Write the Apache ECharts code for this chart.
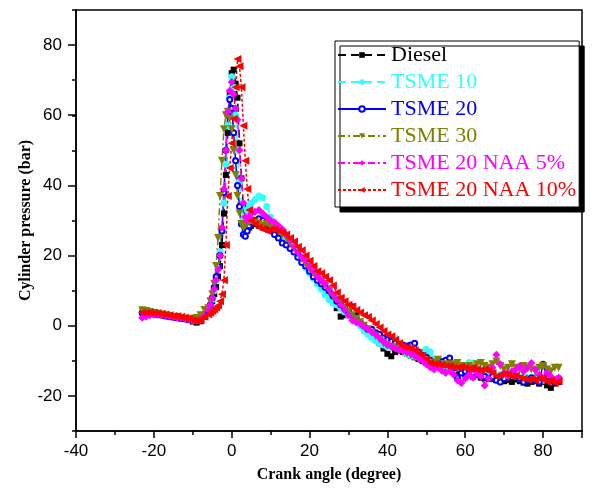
<!DOCTYPE html>
<html>
<head>
<meta charset="utf-8">
<script src="https://cdn.jsdelivr.net/npm/echarts@6/dist/echarts.min.js"></script>
<style>html,body{margin:0;padding:0;background:#fff}#c{width:597px;height:499px}</style>
</head>
<body>
<div id="c"></div>
<script>
// Crank angle (degree)
const crankAngle = [-23,-22,-21,-20,-19,-18,-17,-16,-15,-14,-13,-12,-11,-10,-9,-8,-7,
  -6,-5.5,-5,-4.5,-4,-3.5,-3,-2.5,-2,-1.5,-1,-0.5,0,0.5,1,1.5,2,2.5,3,3.5,4,4.5,5,
  6,7,8,9,10,11,12,13,14,15,16,17,18,19,20,21,22,23,24,25,26,27,28,29,30,31,32,33,34,35,
  36,37,38,39,40,41,42,43,44,45,46,47,48,49,50,51,52,53,54,55,56,57,58,59,60,61,62,63,64,65,
  66,67,68,69,70,71,72,73,74,75,76,77,78,79,80,81,82,83,84];

// Cylinder pressure (bar)
const diesel = [4,3.8,3.6,3.4,3.3,3.1,2.9,2.7,2.5,2.3,2.1,1.9,1.6,1.2,0.9,1.3,2.5,
  4,5,7,9,11,14,17,23,32,43,55,66,72,73,69,65,52,42,34,30,28.5,28,28.5,
  29,28.5,28,28.5,27.5,27,26.5,25.5,24.5,23,
  21.5,20,18.5,17,15.5,15,14,12.5,11,9.5,
  8,5,2.6,3,4,5.5,3,1,-0.7,-2,
  -3,-4,-5,-6.5,-8,-8.7,-7.5,-7,-7.5,-8,
  -8.5,-9,-9.5,-10,-10.5,-11,-11.5,-11.8,-12,-12.5,
  -12.8,-13,-13.5,-13.2,-13.8,-14,-14.5,-14,-14.8,-15,
  -14.6,-15.2,-15.5,-15,-15.8,-15.5,-16,-15.3,-15.8,-16.2,
  -16.5,-16,-15.8,-16.5,-16,-17,-17.7,-16.5,-16];

const tsme10 = [4.2,3.9,3.7,3.5,3.4,3.2,3,2.8,2.6,2.4,2.2,2,1.8,1.6,1.5,1.9,2.8,
  4,5.5,7.5,10,13,17,21,27,35,46,57,65,71,68,60,50,41,34,30,31,33,34,35,
  36,37,36.5,34,31,29,27,25.5,24.5,23,
  21.5,19.5,18,16.5,15,13.5,12,10.5,9,7.5,
  6.5,6,5,4,3,2,1,0,-1.5,-2.5,
  -3.5,-4.2,-5,-5.5,-6,-5,-3.5,-5.5,-7,-8,
  -8.5,-8.8,-9,-7.5,-6.8,-7.5,-9.5,-10.5,-11,-11.5,
  -12,-12.5,-12,-12.5,-11.5,-10.5,-10.6,-11.5,-12.5,-13,
  -14,-13.5,-14.2,-13.8,-14.5,-14,-13.5,-14.5,-15,-14.2,
  -14.8,-15.2,-14.5,-15,-15.5,-14.8,-15.2,-15.8,-15];

const tsme20 = [3.6,3.5,3.4,3.3,3.1,3,2.8,2.6,2.4,2.3,2.1,2,1.8,1.7,1.6,2.2,3.2,
  4.5,6,8,11,14,17,20,27,38,50,60,64.5,62,55,47,40,34,29,26,25.5,27,28.5,29.5,
  30,30.5,30,29,27.5,26,25,23.6,23,22,
  21,19.5,18,17,15.5,14,13,12,11,10,
  8.5,7,6,5,4,3,2,1,0,-1,
  -1,-2,-2.5,-3.5,-4,-4.5,-5,-5.3,-5.5,-5.8,
  -5.5,-5,-7.5,-8.5,-9,-9.8,-10.5,-10.8,-10.2,-9.8,
  -9.2,-12,-14.8,-13.5,-13,-12.5,-13.5,-14,-13,-14.5,
  -15,-14.5,-15.5,-16,-15,-14,-13.5,-14.5,-15,-16,
  -15.5,-14.8,-15.5,-16,-11,-14.5,-15.5,-16,-15];

const tsme30 = [4.4,4.2,3.9,3.6,3.5,3.2,3,2.8,2.6,2.5,2.3,2.1,2,1.9,2.2,3,4.5,
  5,7,9,12,17,25,37,47,56,60,61,59,56,50,43,37,32,29,28,28.5,29,29.5,30,
  29.5,29,28.5,29,28,27.5,27,26,25,23.5,
  22,20.5,19,17.5,16,15,14,12.5,11.5,10,
  8.5,7.5,6.5,5,4,3,2,1,0,-1,
  -2,-3,-4,-5,-5.5,-6,-6.5,-7,-7.5,-8,
  -8.5,-9,-9.5,-10,-10.3,-10.8,-10.5,-9.7,-11.5,-11,
  -11.5,-11,-10.6,-11.5,-12,-11.5,-12,-11,-10.6,-11.5,
  -12,-11,-10.2,-11.5,-12.5,-12,-11,-12,-12.5,-11.5,
  -12,-12.5,-13,-12,-11.5,-12.5,-13,-12,-12];

const naa5 = [2.3,2.6,3,3.2,3.1,3,2.9,2.7,2.5,2.3,2.2,2,1.8,1.5,1.4,1.8,2.8,
  4.5,6,8,10.5,13,16,20,28,39,50,61,67,69.5,66,62,58.7,50,42,35,31,30,31,32,
  32.5,33,32,31,30,29.5,28.5,27.5,26,24.5,
  22.5,21,19.5,18.5,17,15.5,14,13,12,10.5,
  9,7.5,6,4.5,3,1.5,1,0.5,-0.3,-1,
  -1.8,-2.5,-3.5,-4.5,-5.5,-6,-6.5,-7,-7.3,-7.6,
  -7.8,-8.5,-9.2,-10,-11,-11.8,-12.5,-12,-12.8,-13.5,
  -13,-14,-15.5,-16.3,-15,-14,-14.8,-13.5,-14.5,-17,
  -15,-12,-8.3,-11,-13.5,-14.5,-13,-12.5,-11.5,-13,
  -12,-10.6,-12.5,-14,-15,-13.5,-14.5,-15.5,-14.8];

const naa10 = [3.8,3.7,3.8,3.6,3.5,3.4,3.2,3,2.8,2.7,2.5,2.2,2,1.6,1.4,1.6,2.6,
  3.2,3.7,4.2,4.6,5.2,5.8,7,9,13,23,37,45,52,59,68,76,74,68,57,47,39,33,30,
  29,28,27.5,27,27.5,27.5,27,26.5,26,25,
  24,22.5,21.5,20,18.5,17,15.5,15,14,13,
  11.5,9.5,8,7,6,5.5,4.5,3.8,3,2.5,
  1.5,0.5,-0.5,-1.5,-2.5,-3,-4,-5,-5.9,-6.2,
  -6.4,-7,-7.8,-8.5,-9.5,-10.6,-10.8,-11,-11.2,-11.4,
  -11.5,-11.8,-12,-11.6,-12,-12.3,-12,-12.4,-12.6,-12.5,
  -12.8,-13.5,-14.4,-14,-13.6,-14,-14.5,-14.2,-14.8,-15,
  -15.4,-15,-15.6,-14.8,-15.2,-16,-15.5,-16.3,-15.8];

const seriesNames = ['Diesel','TSME 10','TSME 20','TSME 30','TSME 20 NAA 5%','TSME 20 NAA 10%'];
const seriesValues = [diesel, tsme10, tsme20, tsme30, naa5, naa10];
const seriesColors = ['#000000','#33FFFF','#0000FF','#808000','#FF00FF','#FF0000'];
const seriesSymbols = ['rect','circle','emptyCircle','triangle','diamond','triangle'];
const symbolSizes = [6,7,5,8,8,8];
const symbolRotates = [0,0,0,180,0,90];
const lineTypes = [[8,5],[8,5],'solid',[7,3,2,3],[7,3,2,3],[3,2]];

function pairs(ys){ return crankAngle.map((x,i)=>[x, ys[i]]); }

const chart = echarts.init(document.getElementById('c'), null, {renderer:'canvas'});
const series = seriesNames.map((n,i)=>({
  name:n, type:'line', xAxisIndex:0, yAxisIndex:0,
  data: pairs(seriesValues[i]),
  symbol: seriesSymbols[i], symbolSize: symbolSizes[i], symbolRotate: symbolRotates[i],
  showAllSymbol:true,
  lineStyle:{color:seriesColors[i], width:1.5, type:lineTypes[i]},
  itemStyle:{color:seriesColors[i], borderColor:seriesColors[i], borderWidth: i===2?1.5:0},
  emphasis:{disabled:true}
}));

const tickFont = {fontFamily:'Liberation Sans', fontSize:17, color:'#000'};
const nameFont = {fontFamily:'Liberation Serif', fontSize:16, fontWeight:'bold', color:'#000'};

chart.setOption({
  animation:false,
  backgroundColor:'#fff',
  grid:[
    {left:76, right:15, top:10, bottom:68, show:true, borderColor:'#000', borderWidth:1.5},
    {left:76, right:15, top:45.08, bottom:103.08, show:false}
  ],
  xAxis:[
    {type:'value', gridIndex:0, min:-40, max:90, interval:20,
     axisLine:{onZero:false, lineStyle:{color:'#000', width:1.5}},
     axisTick:{show:true, length:7, lineStyle:{color:'#000', width:1.5}},
     minorTick:{show:true, splitNumber:2, length:4, lineStyle:{color:'#000', width:1.5}},
     splitLine:{show:false},
     axisLabel:{...tickFont, margin:12, formatter:v=> v>80 ? '' : String(v)},
     name:'Crank angle (degree)', nameLocation:'middle', nameGap:36, nameTextStyle:nameFont},
    {type:'value', gridIndex:1, min:-40, max:90, show:false}
  ],
  yAxis:[
    {type:'value', gridIndex:0, min:-30, max:90, interval:10,
     axisLine:{show:true, onZero:false, lineStyle:{color:'#000', width:1.5}},
     axisTick:{show:true, length:4, lineStyle:{color:'#000', width:1.5}},
     splitLine:{show:false},
     axisLabel:{show:false},
     name:'Cylinder pressure (bar)', nameLocation:'middle', nameGap:42, nameTextStyle:nameFont},
    {type:'value', gridIndex:1, min:-20, max:80, interval:20,
     axisLine:{show:false, onZero:false},
     axisTick:{show:true, length:8, lineStyle:{color:'#000', width:1.5}},
     splitLine:{show:false},
     axisLabel:{...tickFont, margin:14}}
  ],
  legend:{
    orient:'vertical', left:335, top:41,
    padding:[3,3,6,2], itemGap:5, itemWidth:48, itemHeight:7,
    backgroundColor:'#fff', borderColor:'#000', borderWidth:1,
    shadowColor:'#000', shadowBlur:0, shadowOffsetX:5, shadowOffsetY:5,
    textStyle:{fontFamily:'Liberation Serif', fontSize:22, lineHeight:22},
    data: seriesNames.map((n,i)=>({name:n, textStyle:{color:seriesColors[i]}}))
  },
  series: series
});
</script>
</body>
</html>
